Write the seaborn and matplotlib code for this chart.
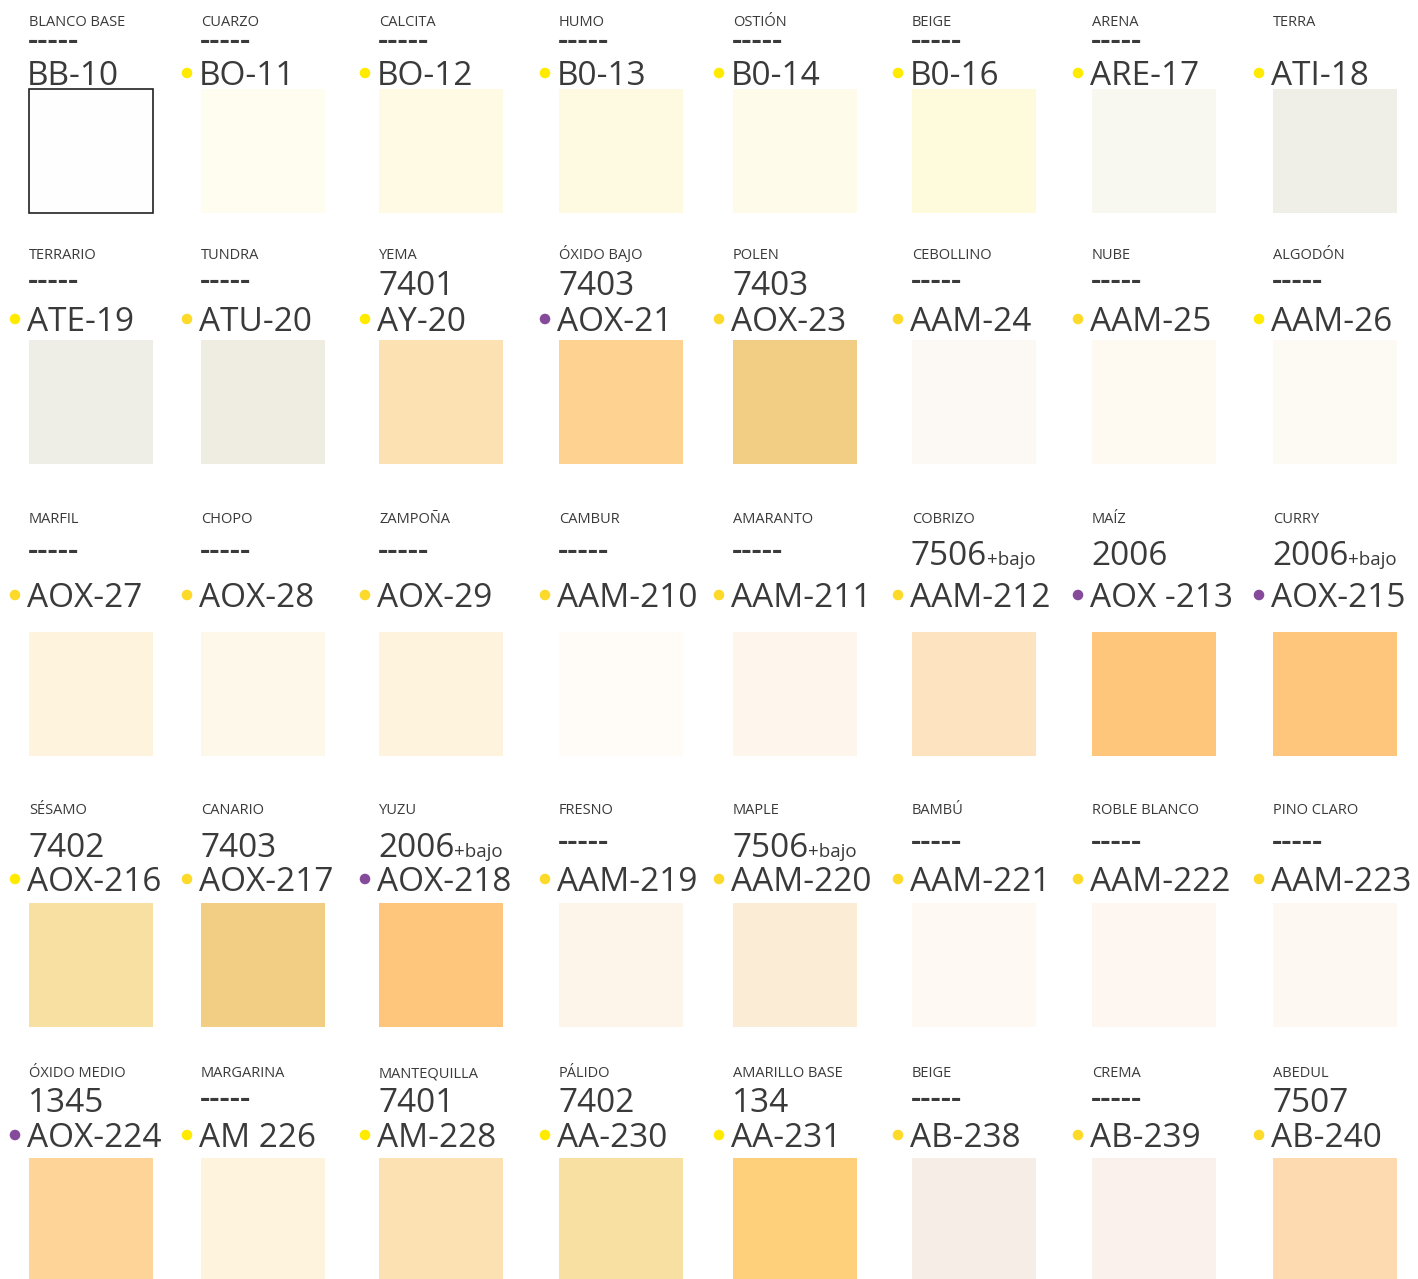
import matplotlib
matplotlib.use("Agg")
import matplotlib.pyplot as plt
import seaborn as sns

# colour chart: 5 rows x 8 columns, read left to right
names = [
    "BLANCO BASE", "CUARZO", "CALCITA", "HUMO", "OSTIÓN", "BEIGE", "ARENA", "TERRA",
    "TERRARIO", "TUNDRA", "YEMA", "ÓXIDO BAJO", "POLEN", "CEBOLLINO", "NUBE", "ALGODÓN",
    "MARFIL", "CHOPO", "ZAMPOÑA", "CAMBUR", "AMARANTO", "COBRIZO", "MAÍZ", "CURRY",
    "SÉSAMO", "CANARIO", "YUZU", "FRESNO", "MAPLE", "BAMBÚ", "ROBLE BLANCO", "PINO CLARO",
    "ÓXIDO MEDIO", "MARGARINA", "MANTEQUILLA", "PÁLIDO", "AMARILLO BASE", "BEIGE", "CREMA", "ABEDUL",
]
refs = [
    "-----", "-----", "-----", "-----", "-----", "-----", "-----", "",
    "-----", "-----", "7401", "7403", "7403", "-----", "-----", "-----",
    "-----", "-----", "-----", "-----", "-----", "7506+bajo", "2006", "2006+bajo",
    "7402", "7403", "2006+bajo", "-----", "7506+bajo", "-----", "-----", "-----",
    "1345", "-----", "7401", "7402", "134", "-----", "-----", "7507",
]
codes = [
    "BB-10", "BO-11", "BO-12", "B0-13", "B0-14", "B0-16", "ARE-17", "ATI-18",
    "ATE-19", "ATU-20", "AY-20", "AOX-21", "AOX-23", "AAM-24", "AAM-25", "AAM-26",
    "AOX-27", "AOX-28", "AOX-29", "AAM-210", "AAM-211", "AAM-212", "AOX -213", "AOX-215",
    "AOX-216", "AOX-217", "AOX-218", "AAM-219", "AAM-220", "AAM-221", "AAM-222", "AAM-223",
    "AOX-224", "AM 226", "AM-228", "AA-230", "AA-231", "AB-238", "AB-239", "AB-240",
]
# marker dot: y = yellow, g = gold, p = purple, "" = none
dots = [
    "", "y", "y", "y", "y", "y", "y", "y",
    "y", "g", "y", "p", "g", "g", "g", "y",
    "g", "g", "g", "g", "g", "g", "p", "p",
    "y", "g", "p", "g", "g", "g", "g", "g",
    "p", "y", "y", "y", "y", "g", "g", "g",
]
swatches = [
    "#fefefe", "#fffcf0", "#fefae4", "#fefae2", "#fefbeb", "#fefadc", "#f8f8f0", "#efefe7",
    "#efeee6", "#efede2", "#fce2b3", "#fed290", "#f2cd84", "#fcf8f3", "#fef9f1", "#fdf9f3",
    "#fef4de", "#fef8ea", "#fef3dd", "#fffbf7", "#fef5ec", "#fde3c0", "#fec67a", "#fec67c",
    "#f8e0a2", "#f2cd84", "#fec67c", "#fdf5ea", "#fbecd6", "#fef9f2", "#fef6f0", "#fef8f3",
    "#fed499", "#fef3dc", "#fce2b2", "#f7e0a2", "#fed07c", "#f6ede7", "#faf0ec", "#fedab0",
]

dot_colors = {"y": "#ffea00", "g": "#fdd92a", "p": "#864a9a"}
ink = "#3a3a3a"

sns.set_theme(style="white")
plt.rcParams["font.family"] = ["Open Sans", "DejaVu Sans"]

W, H = 1418, 1279
fig = plt.figure(figsize=(W / 100, H / 100), dpi=100)
ax = fig.add_axes([0, 0, 1, 1])
ax.set_xlim(0, W)
ax.set_ylim(H, 0)
ax.axis("off")

n_cols = 8
col_x = [29, 201, 379, 559, 733, 912, 1092, 1273]
size = 124
swatch_top = [89, 340, 632, 903, 1158]
name_base = [26, 259, 523, 814, 1077]
ref_base = [56, 295, 565, 857, 1112]
dash_mid = [42, 282, 552, 843, 1100]
code_base = [85, 331, 607, 891, 1147]

rows = [i // n_cols for i in range(len(codes))]
cols = [i % n_cols for i in range(len(codes))]

# swatches as bars
ax.bar([col_x[c] for c in cols], size, width=size,
       bottom=[swatch_top[r] for r in rows], align="edge",
       color=swatches,
       edgecolor=["#222222" if i == 0 else swatches[i] for i in range(len(codes))],
       linewidth=[1.2 if i == 0 else 0 for i in range(len(codes))])

# marker dots
dx, dy, dc = [], [], []
for i, d in enumerate(dots):
    if d:
        dx.append(col_x[cols[i]] - 14)
        dy.append(code_base[rows[i]] - 12)
        dc.append(dot_colors[d])
ax.scatter(dx, dy, s=58, c=dc, linewidths=0, zorder=3)

fig.canvas.draw()
renderer = fig.canvas.get_renderer()
inv = ax.transData.inverted()

for i in range(len(codes)):
    r, c = rows[i], cols[i]
    x = col_x[c]
    ax.text(x, name_base[r], names[i], fontsize=10.5, color=ink, va="baseline", ha="left")
    ax.text(x - 2, code_base[r], codes[i], fontsize=24, color=ink, va="baseline", ha="left")
    ref = refs[i]
    if ref == "-----":
        ax.text(x - 1, dash_mid[r] + 8, ref, fontsize=23, fontweight="semibold", color=ink,
                va="baseline", ha="left")
    elif ref:
        num, _, extra = ref.partition("+")
        t = ax.text(x - 1, ref_base[r], num, fontsize=24, color=ink, va="baseline", ha="left")
        if extra:
            bb = t.get_window_extent(renderer)
            x_end = inv.transform((bb.x1, bb.y0))[0]
            ax.text(x_end, ref_base[r], "+" + extra, fontsize=13.5, color=ink,
                    va="baseline", ha="left")

fig.savefig("out.png", dpi=100, facecolor="white")
